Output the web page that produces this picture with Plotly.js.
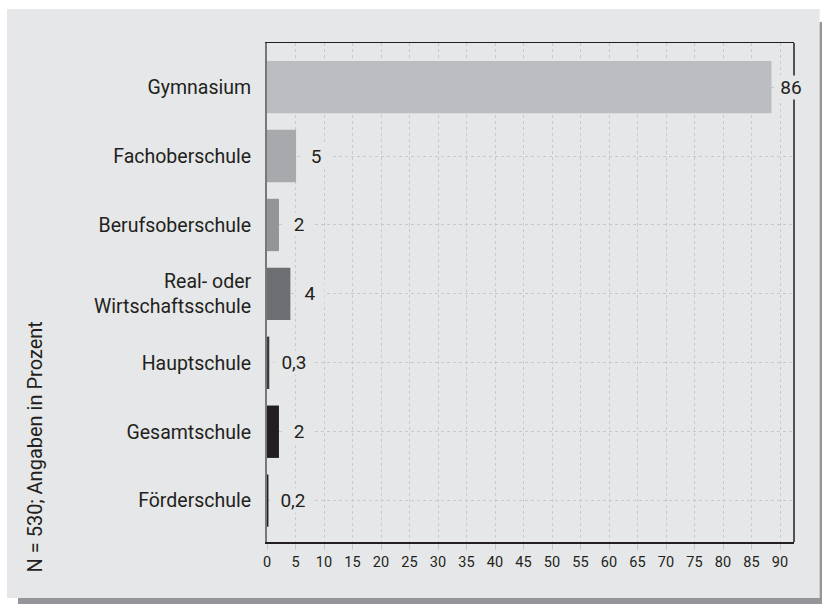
<!DOCTYPE html>
<html>
<head>
<meta charset="utf-8">
<script src="https://cdn.plot.ly/plotly-3.0.1.min.js"></script>
<style>
html,body{margin:0;padding:0;background:#ffffff;}
#chart{width:822px;height:604px;}
</style>
</head>
<body>
<div id="chart"></div>
<script>
// Data
const categories = ['Gymnasium', 'Fachoberschule', 'Berufsoberschule', 'Real- oder<br>Wirtschaftsschule', 'Hauptschule', 'Gesamtschule', 'Förderschule'];
const values = [88.5, 5.1, 2.1, 4.1, 0.4, 2.1, 0.25];
const valueLabels = ['86', '5', '2', '4', '0,3', '2', '0,2'];
const barColors = ['#bcbdc0', '#a7a9ac', '#939598', '#6d6e71', '#3c3b3d', '#231f20', '#231f20'];
const xTicks = [0, 5, 10, 15, 20, 25, 30, 35, 40, 45, 50, 55, 60, 65, 70, 75, 80, 85, 90];
const note = 'N = 530; Angaben in Prozent';

const panel = '#e6e7e8';
const font = 'Roboto, "Liberation Sans", Arial, sans-serif';

const trace = {
  type: 'bar',
  orientation: 'h',
  y: categories,
  x: values,
  marker: {color: barColors, line: {width: 0}},
  hoverinfo: 'skip'
};

const annotations = categories.map((c, i) => ({
  x: values[i], y: c, xref: 'x', yref: 'y',
  text: valueLabels[i], showarrow: false,
  xanchor: 'left', yanchor: 'middle', xshift: 5,
  width: valueLabels[i].length > 2 ? 38 : 28,
  align: 'center',
  bgcolor: panel, borderpad: 0,
  font: {family: font, size: 19, color: '#231f20'}
}));
annotations.push({
  xref: 'paper', yref: 'paper', x: -0.4402, y: 0.1894,
  text: note, showarrow: false, textangle: -90,
  xanchor: 'center', yanchor: 'middle',
  font: {family: font, size: 20, color: '#231f20'}
});

const layout = {
  width: 822, height: 604,
  margin: {l: 267, r: 28, t: 43, b: 62},
  paper_bgcolor: '#ffffff',
  plot_bgcolor: 'rgba(0,0,0,0)',
  showlegend: false,
  bargap: 0.24,
  xaxis: {
    range: [0, 92.45],
    tickvals: xTicks,
    ticktext: xTicks.map(String),
    showgrid: true, gridcolor: '#c8c9cb', griddash: 'dot', gridwidth: 1,
    zeroline: false,
    showline: true, linecolor: '#231f20', linewidth: 1.5, mirror: true,
    ticks: 'outside', ticklen: 6, tickcolor: '#c8c9cb',
    tickfont: {family: font, size: 14.5, color: '#231f20'},
    fixedrange: true
  },
  yaxis: {
    type: 'category',
    range: [6.6, -0.64],
    showgrid: true, gridcolor: '#c8c9cb', griddash: 'dot', gridwidth: 1,
    zeroline: false,
    showline: true, linecolor: '#77787b', linewidth: 2,
    ticks: 'outside', ticklen: 10, tickcolor: 'rgba(0,0,0,0)',
    tickfont: {family: font, size: 19.5, color: '#231f20'},
    fixedrange: true
  },
  shapes: [
    {type: 'rect', xref: 'paper', yref: 'paper', layer: 'below',
     x0: -0.4725, x1: 1.45, y0: -0.14, y1: 1.042,
     fillcolor: '#939598', line: {width: 0}},
    {type: 'rect', xref: 'paper', yref: 'paper', layer: 'below',
     x0: -0.4934, x1: 1.0488, y0: -0.1122, y1: 1.0681,
     fillcolor: panel, line: {width: 0}},
    {type: 'line', xref: 'paper', yref: 'paper', layer: 'above',
     x0: 1, x1: 1, y0: 0, y1: 1, line: {color: '#231f20', width: 1.5}}
  ],
  annotations: annotations
};

Plotly.newPlot('chart', [trace], layout, {staticPlot: true, displayModeBar: false});
</script>
</body>
</html>
